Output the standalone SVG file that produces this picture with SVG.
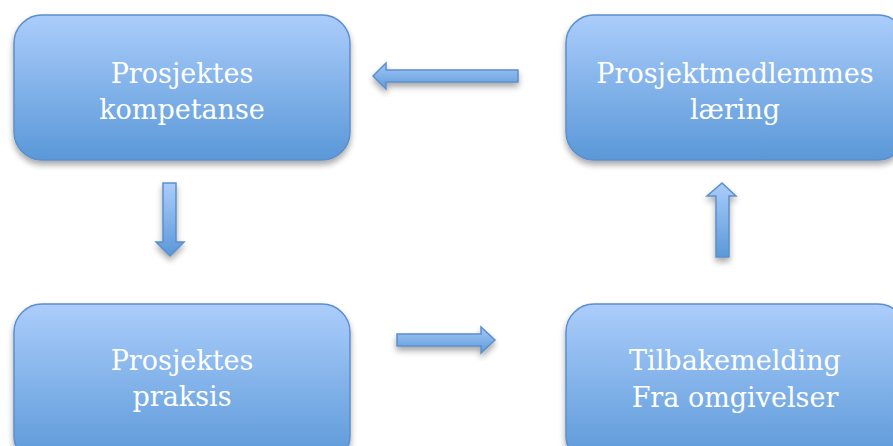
<svg xmlns="http://www.w3.org/2000/svg" width="893" height="446" viewBox="0 0 893 446">
<defs>
<linearGradient id="gBox" x1="0" y1="0" x2="0" y2="1">
<stop offset="0" stop-color="#abcdfb"/>
<stop offset="1" stop-color="#5a98d8"/>
</linearGradient>
<linearGradient id="gV" x1="0" y1="0" x2="0" y2="1">
<stop offset="0" stop-color="#abcdfb"/>
<stop offset="1" stop-color="#5a98d8"/>
</linearGradient>
<linearGradient id="gH" x1="0" y1="0" x2="0" y2="1">
<stop offset="0" stop-color="#a4c8f6"/>
<stop offset="1" stop-color="#5e9bdb"/>
</linearGradient>
<filter id="sh" x="-20%" y="-20%" width="140%" height="150%">
<feGaussianBlur in="SourceAlpha" stdDeviation="3"/>
<feOffset dx="0" dy="4" result="b"/>
<feComponentTransfer><feFuncA type="linear" slope="0.35"/></feComponentTransfer>
<feMerge><feMergeNode/><feMergeNode in="SourceGraphic"/></feMerge>
</filter>
<style>
.box{fill:url(#gBox);stroke:#5b8fcb;stroke-width:1.5;filter:url(#sh)}
.arr{stroke:#5b8fcb;stroke-width:1.5;stroke-linejoin:miter;filter:url(#sh)}
.t{font-family:"DejaVu Serif","Liberation Serif",serif;font-size:27px;fill:#ffffff;text-anchor:middle}
</style>
</defs>
<g id="n1">
<rect class="box" x="14" y="15" width="336" height="145" rx="28"/>
<text class="t" x="182" y="83">Prosjektes</text>
<text class="t" x="182" y="119">kompetanse</text>
</g>
<g id="n2">
<rect class="box" x="566" y="15" width="340" height="145" rx="28"/>
<text class="t" x="735" y="83">Prosjektmedlemmes</text>
<text class="t" x="735" y="119">læring</text>
</g>
<g id="n3">
<rect class="box" x="14" y="304" width="336" height="160" rx="28"/>
<text class="t" x="182" y="370">Prosjektes</text>
<text class="t" x="182" y="406">praksis</text>
</g>
<g id="n4">
<rect class="box" x="566" y="304" width="340" height="160" rx="28"/>
<text class="t" x="735" y="370">Tilbakemelding</text>
<text class="t" x="735" y="407">Fra omgivelser</text>
</g>
<g id="connectors">
<polygon class="arr" fill="url(#gH)" points="518,70 386,70 386,63 373,76 386,89 386,82 518,82"/>
<polygon class="arr" fill="url(#gV)" points="163,183 176,183 176,242 184,242 170,256 156,242 163,242"/>
<polygon class="arr" fill="url(#gH)" points="397,334 481,334 481,327 495,340 481,353 481,346 397,346"/>
<polygon class="arr" fill="url(#gV)" points="716,257 729,257 729,196 736,196 722,183 707,196 716,196"/>
</g>
</svg>
